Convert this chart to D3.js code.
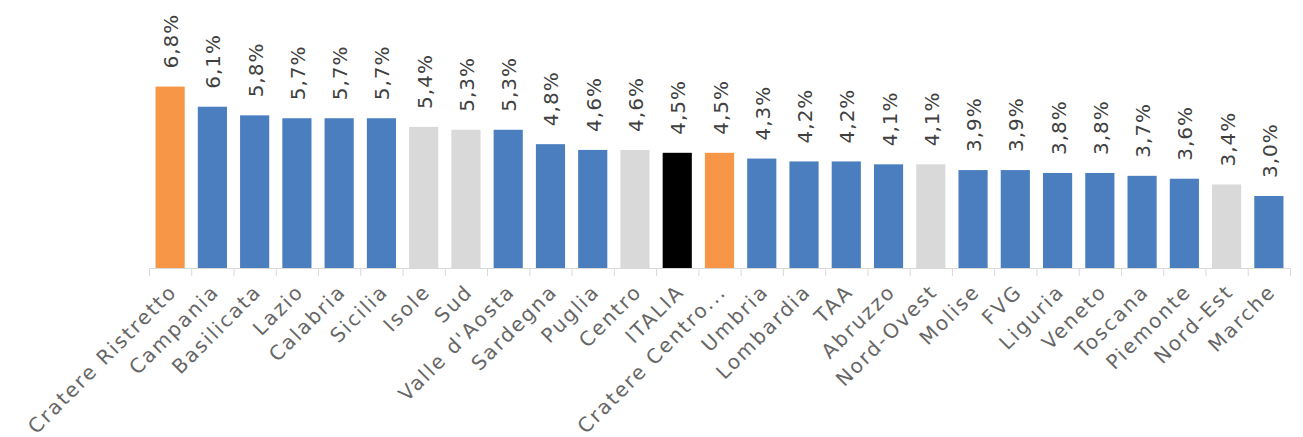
<!DOCTYPE html>
<html>
<head>
<meta charset="utf-8">
<script src="https://cdn.jsdelivr.net/npm/d3@7"></script>
<style>
  body { margin: 0; background: #fff; }
  text { font-family: "DejaVu Sans", sans-serif; }
</style>
</head>
<body>
<script>
const categories = ["Cratere Ristretto", "Campania", "Basilicata", "Lazio", "Calabria", "Sicilia",
  "Isole", "Sud", "Valle d'Aosta", "Sardegna", "Puglia", "Centro", "ITALIA", "Cratere Centro...",
  "Umbria", "Lombardia", "TAA", "Abruzzo", "Nord-Ovest", "Molise", "FVG", "Liguria", "Veneto",
  "Toscana", "Piemonte", "Nord-Est", "Marche"];
const values = [6.8, 6.1, 5.8, 5.7, 5.7, 5.7, 5.4, 5.3, 5.3, 4.8, 4.6, 4.6, 4.5, 4.5,
  4.3, 4.2, 4.2, 4.1, 4.1, 3.9, 3.9, 3.8, 3.8, 3.7, 3.6, 3.4, 3.0];
// group of each bar: c = cratere, r = regione, m = macro-area, i = italia
const groups = ["c", "r", "r", "r", "r", "r", "m", "m", "r", "r", "r", "m", "i", "c",
  "r", "r", "r", "r", "m", "r", "r", "r", "r", "r", "r", "m", "r"];

const colors = { c: "#F79646", r: "#4A7EBF", m: "#D9D9D9", i: "#000000" };

const main = () => {
  const width = 1303, height = 437;
  const baseY = 268;

  const svg = d3.select("body").append("svg")
    .attr("width", width)
    .attr("height", height);

  const x = d3.scaleBand()
    .domain(categories)
    .range([149, 1290])
    .paddingInner(0.31)
    .paddingOuter(0.155);

  const y = d3.scaleLinear()
    .domain([0.5, 7])
    .range([baseY, baseY - 6.5 * 28.8]);

  const data = categories.map((c, i) => ({ name: c, value: values[i], group: groups[i] }));

  svg.selectAll("rect.bar")
    .data(data)
    .enter()
    .append("rect")
    .attr("class", "bar")
    .attr("x", d => x(d.name))
    .attr("y", d => y(d.value))
    .attr("width", x.bandwidth())
    .attr("height", d => baseY - y(d.value))
    .attr("fill", d => colors[d.group]);

  // axis line and ticks at category boundaries
  svg.append("line")
    .attr("x1", 149).attr("x2", 1290)
    .attr("y1", baseY + 0.5).attr("y2", baseY + 0.5)
    .attr("stroke", "#D9D9D9");

  const step = x.step();
  svg.selectAll("line.tick")
    .data(d3.range(categories.length + 1))
    .enter()
    .append("line")
    .attr("class", "tick")
    .attr("x1", i => 149 + i * step + 0.5)
    .attr("x2", i => 149 + i * step + 0.5)
    .attr("y1", baseY)
    .attr("y2", baseY + 8)
    .attr("stroke", "#D9D9D9");

  // value labels
  svg.selectAll("text.val")
    .data(data)
    .enter()
    .append("text")
    .attr("class", "val")
    .attr("transform", d => `translate(${x(d.name) + x.bandwidth() / 2 + 8},${y(d.value) - 18}) rotate(-90)`)
    .attr("font-size", 20)
    .attr("letter-spacing", 1)
    .attr("fill", "#404040")
    .text(d => d3.format(".1f")(d.value).replace(".", ",") + "%");

  // category labels
  svg.selectAll("text.cat")
    .data(data)
    .enter()
    .append("text")
    .attr("class", "cat")
    .attr("text-anchor", "end")
    .attr("transform", d => `translate(${x(d.name) + x.bandwidth() / 2 + 8},${baseY + 25}) rotate(-45)`)
    .attr("font-size", 20)
    .attr("letter-spacing", 2)
    .attr("fill", "#666666")
    .text(d => d.name);
};

window.onload = main;
</script>
</body>
</html>
